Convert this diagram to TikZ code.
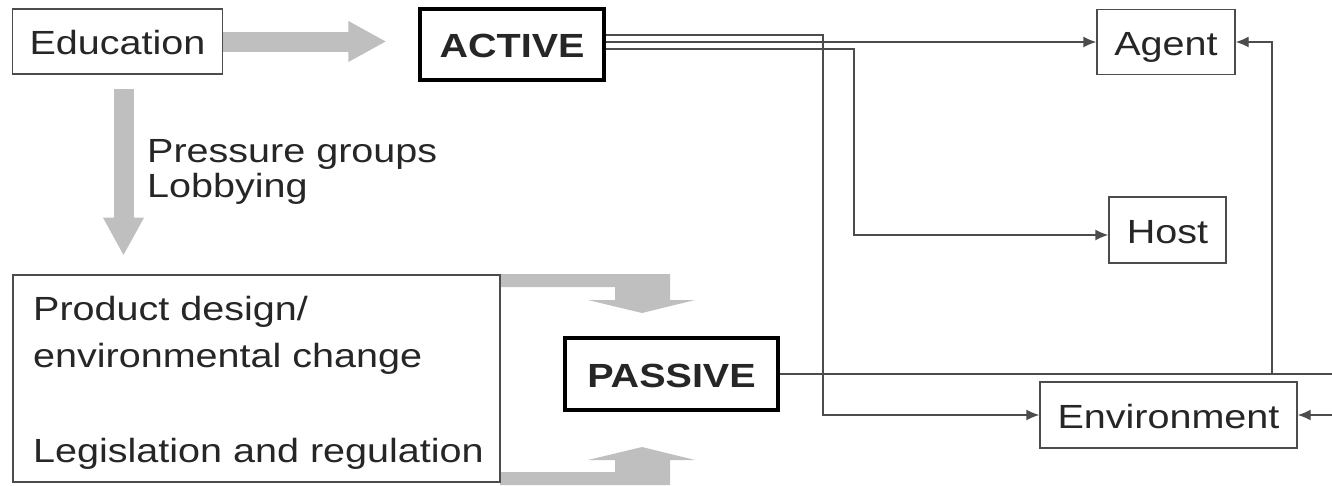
\documentclass[tikz,border=0pt]{standalone}
\usepackage{fontspec}
\setmainfont{Liberation Sans}[FakeStretch=1.18]
\usetikzlibrary{arrows.meta}
\begin{document}
\begin{tikzpicture}[x=1pt,y=-1pt,
  every node/.style={font=\fontsize{33.5}{40}\selectfont, text=black!85},
  box/.style={draw=black!70, line width=1.4pt, inner sep=0pt, fill=white, text height=26pt, text depth=0pt},
  bbox/.style={draw=black, line width=3.2pt, inner sep=0pt, fill=white, text height=26pt, text depth=0pt, font=\fontsize{33.5}{40}\selectfont\bfseries},
  lbl/.style={anchor=base west, inner sep=0pt},
  conn/.style={draw=black!70, line width=1.4pt},
  arr/.style={conn, -{Latex[length=13pt 0 0,width=11pt 0 0]}},
  fat/.style={draw=black!25, line width=20pt, -{Triangle[length=38pt 0 0,width=38pt 0 0]}},
  grayfill/.style={fill=black!25}]
\useasboundingbox (0,0) rectangle (1332,485);

% gray L-shaped arrows towards PASSIVE
\fill[grayfill] (500,274) -- (670,274) -- (670,300) -- (695,300) -- (642,313) -- (588,300) -- (615,300) -- (615,287) -- (500,287) -- cycle;
\fill[grayfill] (500,485) -- (670,485) -- (670,460) -- (695,460) -- (642,447) -- (588,460) -- (615,460) -- (615,472) -- (500,472) -- cycle;

% boxes
\node[box, minimum width=210pt, minimum height=65pt] (edu) at (117.5,41.5) {Education};
\node[bbox, minimum width=184pt, minimum height=71pt] (act) at (512,44.5) {ACTIVE};
\node[box, minimum width=138pt, minimum height=65pt] (agent) at (1166,42) {Agent};
\node[box, minimum width=117pt, minimum height=66pt] (host) at (1167.5,230) {Host};
\node[bbox, minimum width=213pt, minimum height=72pt] (pas) at (671.5,374) {PASSIVE};
\node[box, minimum width=257pt, minimum height=66pt] (env) at (1168.5,415) {Environment};
\node[box, minimum width=487pt, minimum height=207pt] (pb) at (256.5,378.5) {};

% texts
\node[lbl] (pd) at (33,320) {Product design/};
\node[lbl] (ec) at (33,367) {environmental change};
\node[lbl] (lr) at (33,462) {Legislation and regulation};
\node[lbl] (pg) at (147,162) {Pressure groups};
\node[lbl] (lb) at (147,197) {Lobbying};

% fat gray arrows
\draw[fat] (edu.east) -- ([xshift=-32pt]act.west |- edu.east);
\draw[fat] ([xshift=6pt,yshift=-14pt]edu.south) -- ++(0,167);

% connectors
\coordinate (v1) at (823,0);
\coordinate (v2) at (854,0);
\coordinate (v3) at (1272,0);
\coordinate (rt) at (1332,0);
\coordinate (hin) at ([yshift=-5pt]host.west);

\draw[arr] ([yshift=9.5pt]act.east) -| (v1 |- env.west) -- (env.west);
\draw[arr] (act.east |- agent.west) -- (agent.west);
\draw[arr] ([yshift=-4.5pt]act.east) -| (v2 |- hin) -- (hin);
\draw[conn] (pas.east) -- (rt |- pas.east);
\draw[arr] (v3 |- pas.east) |- (agent.east);
\draw[arr] (rt |- env.east) -- (env.east);
\end{tikzpicture}
\end{document}
